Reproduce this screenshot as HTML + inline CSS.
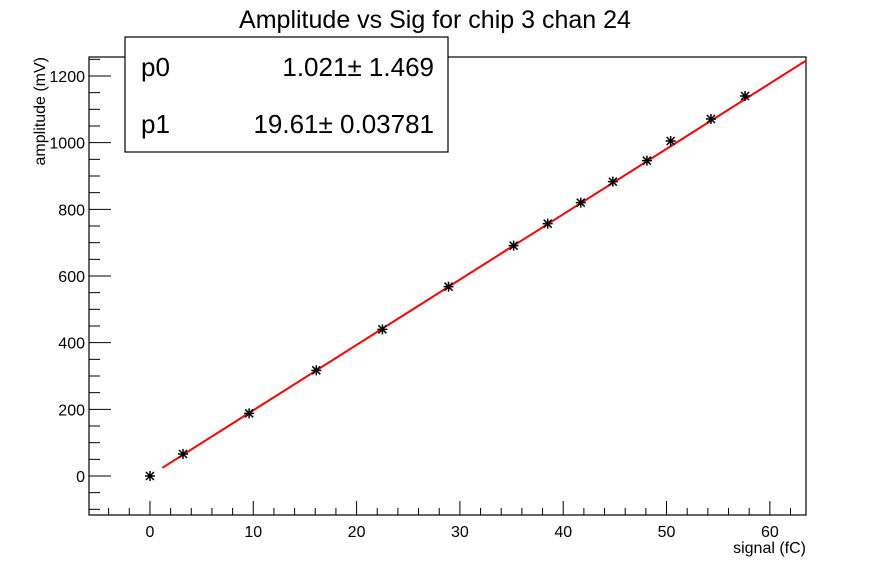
<!DOCTYPE html>
<html><head><meta charset="utf-8"><style>
body{margin:0;background:#fff;}
svg{font-family:"Liberation Sans",Arial,sans-serif;}
</style></head><body>
<svg id="c" width="896" height="572"></svg>
<script>
const xs=[0,3.2,9.6,16.1,22.5,28.9,35.2,38.5,41.7,44.8,48.1,50.4,54.3,57.6];
const ys=[0,66,188,317,440,568,691,757,820,883,946,1005,1071,1140];
const p0=1.021, p1=19.61;
const xTicks=[0,10,20,30,40,50,60];
const yTicks=[0,200,400,600,800,1000,1200];
const fitRange=[1.2,63.5];
const NS="http://www.w3.org/2000/svg";
const svg=document.getElementById('c');
const L=89,R=806,T=57,B=515;
const xmin=-5.9,xmax=63.5,ymin=-117,ymax=1257;
const X=v=>L+(v-xmin)/(xmax-xmin)*(R-L);
const Y=v=>B-(v-ymin)/(ymax-ymin)*(B-T);
function el(t,a,txt){const e=document.createElementNS(NS,t);for(const k in a)e.setAttribute(k,a[k]);if(txt!==undefined)e.textContent=txt;svg.appendChild(e);return e;}
let e;
e=el('rect',{x:L,y:T,width:R-L,height:B-T,fill:'none',stroke:'#000','stroke-width':1.2});

// x ticks
for(let v=-4;v<=62;v+=2){const major=v%10===0;e=el('line',{x1:X(v),x2:X(v),y1:B,y2:B-(major?14:7),stroke:'#000','stroke-width':1});
}
xTicks.forEach(v=>{e=el('text',{x:X(v),y:B+22,'font-size':16,'text-anchor':'middle'},String(v));
});
for(let v=-100;v<=1250;v+=50){const major=v%200===0;e=el('line',{x1:L,x2:L+(major?22:11),y1:Y(v),y2:Y(v),stroke:'#000','stroke-width':1});
}
yTicks.forEach(v=>{e=el('text',{x:L-4,y:Y(v)+6,'font-size':16,'text-anchor':'end'},String(v));
});
e=el('text',{x:806,y:553,'font-size':16,'text-anchor':'end'},'signal (fC)');

e=el('text',{x:0,y:0,'font-size':16,'text-anchor':'end',transform:'translate(45,57) rotate(-90)'},'amplitude (mV)');

e=el('text',{x:435,y:28,'font-size':25,'text-anchor':'middle'},'Amplitude vs Sig for chip 3 chan 24');

// fit line
e=el('line',{x1:X(fitRange[0]),y1:Y(p0+p1*fitRange[0]),x2:X(fitRange[1]),y2:Y(p0+p1*fitRange[1]),stroke:'#f00','stroke-width':2});

// points
xs.forEach((v,i)=>{const cx=X(v),cy=Y(ys[i]);
const g=document.createElementNS(NS,'path');
g.setAttribute('d',`M${cx-5},${cy}H${cx+5}M${cx},${cy-5}V${cy+5}M${cx-4},${cy-4}L${cx+4},${cy+4}M${cx-4},${cy+4}L${cx+4},${cy-4}`);
g.setAttribute('stroke','#000');g.setAttribute('stroke-width','1.5');
svg.appendChild(g);});
// stats box
e=el('rect',{x:125,y:37,width:323,height:115,fill:'#fff',stroke:'#000','stroke-width':1.2});

[['p0','1.021± 1.469',76],['p1','19.61± 0.03781',133]].forEach(r=>{
e=el('text',{x:141,y:r[2],'font-size':26},r[0]);
e=el('text',{x:434,y:r[2],'font-size':26,'text-anchor':'end'},r[1]);});
</script>
</body></html>
